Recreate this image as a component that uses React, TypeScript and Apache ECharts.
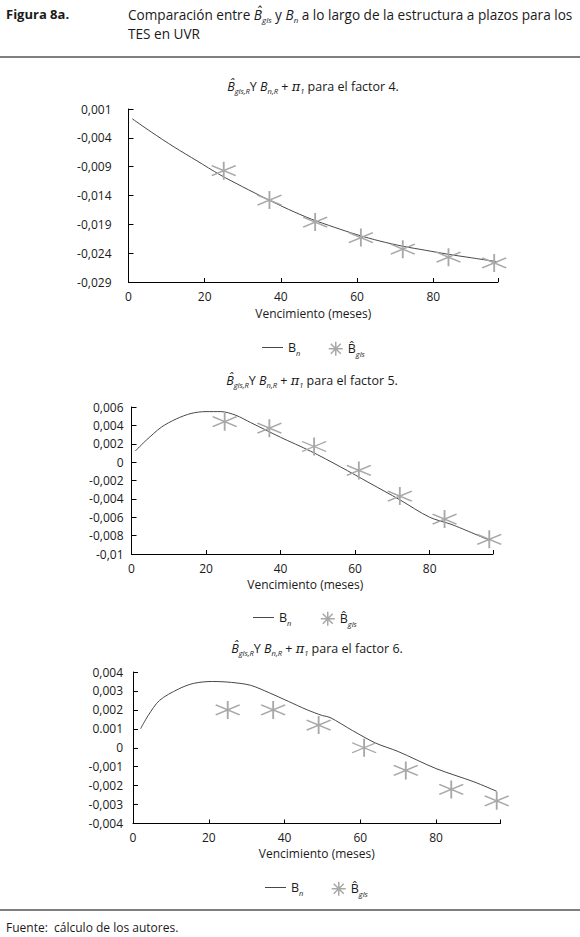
import React, { useEffect, useRef } from 'react';
import * as echarts from 'echarts';

// ---------- data ----------
const xTickValues = [0, 20, 40, 60, 80];
const xAxisMax = 97;
const starMaturities = [25, 37, 49, 61, 72, 84, 96];

// factor 4
const lineX1 = [1, 6, 12, 18, 24, 30, 36, 42, 48, 54, 60, 66, 72, 78, 84, 90, 97];
const lineY1 = [-0.0007, -0.003, -0.0056, -0.008, -0.0104, -0.0125, -0.0145, -0.0164, -0.0181, -0.0195, -0.0208, -0.0219, -0.0228, -0.0235, -0.0242, -0.0248, -0.0255];
const starY1 = [-0.0097, -0.0148, -0.0186, -0.0213, -0.0233, -0.0247, -0.0257];
const yTicks1 = [-0.029, -0.024, -0.019, -0.014, -0.009, -0.004, 0.001];
const yLabels1 = ['-0,029', '-0,024', '-0,019', '-0,014', '-0,009', '-0,004', '0,001'];

// factor 5
const lineX2 = [1, 4, 8, 12, 16, 20, 24, 28, 32, 36, 40, 48, 56, 64, 72, 80, 86, 96];
const lineY2 = [0.0012, 0.0024, 0.0038, 0.0047, 0.0053, 0.0055, 0.0055, 0.0051, 0.0043, 0.0035, 0.0027, 0.0012, -0.0005, -0.0023, -0.0041, -0.006, -0.0068, -0.0085];
const starY2 = [0.0044, 0.0037, 0.0017, -0.0009, -0.0037, -0.0062, -0.0084];
const yTicks2 = [-0.01, -0.008, -0.006, -0.004, -0.002, 0, 0.002, 0.004, 0.006];
const yLabels2 = ['-0,01', '-0,008', '-0,006', '-0,004', '-0,002', '0', '0,002', '0,004', '0,006'];

// factor 6
const lineX3 = [2, 4, 7, 12, 16, 21, 26, 31, 36, 41, 46, 50, 52, 58, 64, 70, 80, 90, 96];
const lineY3 = [0.001, 0.0017, 0.0025, 0.0031, 0.0034, 0.0035, 0.00345, 0.0033, 0.0029, 0.00245, 0.002, 0.0017, 0.0016, 0.0009, 0.00025, -0.0002, -0.0011, -0.0018, -0.0023];
const starY3 = [0.002, 0.002, 0.0012, 0, -0.0012, -0.0022, -0.0028];
const yTicks3 = [-0.004, -0.003, -0.002, -0.001, 0, 0.001, 0.002, 0.003, 0.004];
const yLabels3 = ['-0,004', '-0,003', '-0,002', '-0,001', '0', '0.001', '0,002', '0,003', '0,004'];

const factors = ['4', '5', '6'];

// ---------- styles ----------
const FONT = "'Open Sans', sans-serif";
const TXT = '#1a1a1a';
const LINE_COLOR = '#474747';
const STAR_COLOR = '#a8a8a8';
const STAR_PATH = 'path://M0,-9L0,9M-12,-5L12,5M-12,5L12,-5';
const STAR_ICON = 'path://M7,0L7,14M0,7L14,7M2,2L12,12M12,2L2,12';

const charts = [
  { lineX: lineX1, lineY: lineY1, starY: starY1, ticks: yTicks1, labels: yLabels1,
    grid: { left: 128.5, top: 109, width: 369.5, height: 173 }, labelMargin: 17, nameGap: 25, namePad: [0, 0, 0, 0],
    titleX: 313, titleY: 86, legLine: 257, legStar: 323, legY: 336 },
  { lineX: lineX2, lineY: lineY2, starY: starY2, ticks: yTicks2, labels: yLabels2,
    grid: { left: 131.5, top: 407, width: 361.5, height: 147 }, labelMargin: 8, nameGap: 24, namePad: [0, 14, 0, 0],
    titleX: 312, titleY: 380, legLine: 248, legStar: 315, legY: 606 },
  { lineX: lineX3, lineY: lineY3, starY: starY3, ticks: yTicks3, labels: yLabels3,
    grid: { left: 133, top: 672, width: 367.5, height: 151.5 }, labelMargin: 10, nameGap: 24, namePad: [0, 0, 0, 0],
    titleX: 317, titleY: 648, legLine: 260, legStar: 326, legY: 876 },
];

function labelFormatter(ticks: number[], labels: string[]) {
  return (v: number) => {
    let best = -1;
    let d = Infinity;
    ticks.forEach((t, i) => {
      const dd = Math.abs(t - v);
      if (dd < d) { d = dd; best = i; }
    });
    return d < 1e-7 ? labels[best] : '';
  };
}

const titleRich = {
  bi: { fontSize: 12.5, fontFamily: FONT, fontStyle: 'italic', fill: TXT, lineHeight: 18 },
  sub: { fontSize: 7.5, fontFamily: FONT, fontStyle: 'italic', fill: TXT, verticalAlign: 'bottom', lineHeight: 10 },
  pi: { fontSize: 13, fontFamily: "'DejaVu Serif', serif", fontStyle: 'italic', fill: TXT, lineHeight: 18 },
};

const headerRich = {
  bi: { fontSize: 13.6, fontFamily: FONT, fontStyle: 'italic', fill: TXT, lineHeight: 19 },
  sub: { fontSize: 8, fontFamily: FONT, fontStyle: 'italic', fill: TXT, verticalAlign: 'bottom', lineHeight: 11 },
};

const legendRich = {
  m: { fontSize: 12.5, fontFamily: FONT, color: TXT, lineHeight: 18 },
  s: { fontSize: 7.5, fontFamily: FONT, fontStyle: 'italic', color: TXT, verticalAlign: 'bottom', lineHeight: 10 },
};

function buildOption() {
  const grid: any[] = [];
  const xAxis: any[] = [];
  const yAxis: any[] = [];
  const series: any[] = [];
  const legend: any[] = [];
  const graphic: any[] = [];

  charts.forEach((c, i) => {
    grid.push({ ...c.grid, containLabel: false });
    xAxis.push({
      type: 'value', gridIndex: i, min: 0, max: xAxisMax,
      axisLine: { show: true, onZero: false, lineStyle: { color: '#000', width: 1 } },
      axisTick: { show: true, inside: true, length: 4, customValues: [...xTickValues, xAxisMax], lineStyle: { color: '#000' } },
      axisLabel: { customValues: xTickValues, margin: 8, color: TXT, fontSize: 12, fontFamily: FONT },
      splitLine: { show: false },
      name: 'Vencimiento (meses)', nameLocation: 'middle', nameGap: c.nameGap,
      nameTextStyle: { color: TXT, fontSize: 12, fontFamily: FONT, padding: c.namePad },
    });
    yAxis.push({
      type: 'value', gridIndex: i, min: c.ticks[0], max: c.ticks[c.ticks.length - 1],
      axisLine: { show: true, lineStyle: { color: '#000', width: 1 } },
      axisTick: { show: true, inside: true, length: 5, customValues: c.ticks, lineStyle: { color: '#000' } },
      axisLabel: { customValues: c.ticks, formatter: labelFormatter(c.ticks, c.labels), margin: c.labelMargin, color: TXT, fontSize: 12, fontFamily: FONT },
      splitLine: { show: false },
    });
    const f = factors[i];
    series.push({
      name: 'Bn' + f, type: 'line', xAxisIndex: i, yAxisIndex: i,
      data: c.lineX.map((x, k) => [x, c.lineY[k]]),
      symbol: 'none', smooth: 0.3, color: LINE_COLOR,
      lineStyle: { color: LINE_COLOR, width: 1 },
      itemStyle: { color: LINE_COLOR },
      z: 2,
    });
    series.push({
      name: 'Bgls' + f, type: 'scatter', xAxisIndex: i, yAxisIndex: i,
      data: starMaturities.map((x, k) => [x, c.starY[k]]),
      symbol: STAR_PATH, symbolSize: [24, 18],
      itemStyle: { color: 'rgba(0,0,0,0)', borderColor: STAR_COLOR, borderWidth: 1.6, opacity: 1 },
      z: 3,
    });
    legend.push({
      left: c.legLine, top: c.legY, orient: 'horizontal', selectedMode: false,
      itemWidth: 21, itemHeight: 1,
      data: [{ name: 'Bn' + f, icon: 'rect', itemStyle: { color: LINE_COLOR } }],
      formatter: () => '{m|B}{s|n}',
      textStyle: { color: TXT, fontSize: 12, fontFamily: FONT, rich: legendRich },
    });
    legend.push({
      left: c.legStar, top: c.legY, orient: 'horizontal', selectedMode: false,
      itemWidth: 14, itemHeight: 14,
      data: [{ name: 'Bgls' + f, icon: STAR_ICON, itemStyle: { color: 'rgba(0,0,0,0)', borderColor: STAR_COLOR, borderWidth: 1.5 } }],
      formatter: () => '{m|B\u0302}{s|gls}',
      textStyle: { color: TXT, fontSize: 12, fontFamily: FONT, rich: legendRich },
    });
    graphic.push({
      type: 'text', x: c.titleX, y: c.titleY,
      style: {
        text: '{bi|B\u0302}{sub|gls,R}Y {bi|B}{sub|n,R} + {pi|\u03C0}{sub|1} para el factor ' + f + '.',
        rich: titleRich, fontSize: 12.5, fontFamily: FONT, fill: TXT, lineHeight: 18,
        align: 'center', verticalAlign: 'middle', textAlign: 'center', textVerticalAlign: 'middle',
      },
    });
  });

  // header & footer
  graphic.push(
    { type: 'text', x: 6, y: 14, style: { text: 'Figura 8a.', fontSize: 13, fontWeight: 'bold', fontFamily: FONT, fill: TXT, verticalAlign: 'middle', textVerticalAlign: 'middle' } },
    { type: 'text', x: 128, y: 14, style: {
      text: 'Comparación entre {bi|B\u0302}{sub|gls} y {bi|B}{sub|n} a lo largo de la estructura a plazos para los',
      rich: headerRich, fontSize: 13.6, fontFamily: FONT, fill: TXT, lineHeight: 19, verticalAlign: 'middle', textVerticalAlign: 'middle' } },
    { type: 'text', x: 128, y: 33, style: { text: 'TES en UVR', fontSize: 13.6, fontFamily: FONT, fill: TXT, verticalAlign: 'middle', textVerticalAlign: 'middle' } },
    { type: 'line', shape: { x1: 0, y1: 57, x2: 580, y2: 57 }, style: { stroke: '#000', lineWidth: 1.2 } },
    { type: 'line', shape: { x1: 0, y1: 910, x2: 580, y2: 910 }, style: { stroke: '#000', lineWidth: 1.2 } },
    { type: 'text', x: 6, y: 927, style: { text: 'Fuente:  cálculo de los autores.', fontSize: 12, fontFamily: FONT, fill: TXT, verticalAlign: 'middle', textVerticalAlign: 'middle' } },
  );

  return {
    animation: false,
    backgroundColor: '#ffffff',
    grid, xAxis, yAxis, series, legend, graphic,
  };
}

export default function App() {
  const ref = useRef<HTMLDivElement>(null);
  useEffect(() => {
    if (!ref.current) return;
    const chart = echarts.init(ref.current, null, { renderer: 'svg' });
    chart.setOption(buildOption() as any);
    return () => chart.dispose();
  }, []);
  return (
    <div
      ref={ref}
      style={{ position: 'absolute', left: 0, top: 0, width: 580, height: 937, background: '#fff' }}
    />
  );
}
